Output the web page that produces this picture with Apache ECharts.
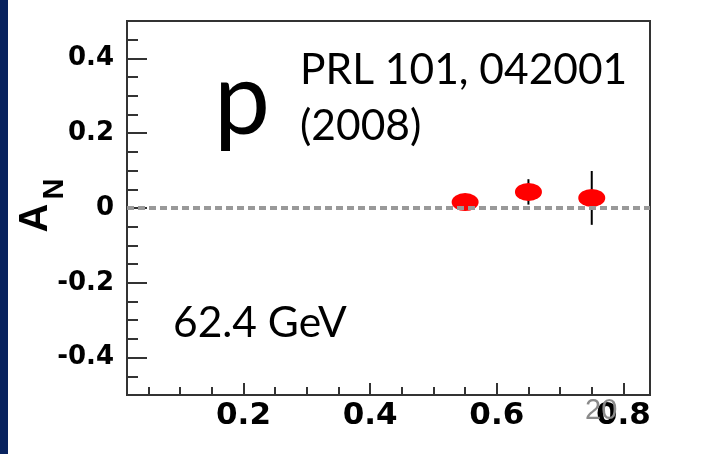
<!DOCTYPE html>
<html>
<head>
<meta charset="utf-8">
<script src="https://cdn.jsdelivr.net/npm/echarts@6/dist/echarts.min.js"></script>
<style>
html,body{margin:0;padding:0;background:#fff;}
#chart{width:703px;height:454px;}
</style>
</head>
<body>
<div id="chart"></div>
<script>
// Data
const xF = [0.55, 0.65, 0.75];
const AN = [0.016, 0.043, 0.027];
const ANerr = [0.015, 0.034, 0.072];

const xRange = [0.016, 0.842];
const yRange = [-0.5, 0.5];
const xMajorTicks = [0.2, 0.4, 0.6, 0.8];
const xMinorTicks = [0.05, 0.1, 0.15, 0.25, 0.3, 0.35, 0.45, 0.5, 0.55, 0.65, 0.7, 0.75];
const yMajorTicks = [-0.4, -0.2, 0, 0.2, 0.4];
const yMinorTicks = [-0.45, -0.35, -0.3, -0.25, -0.15, -0.1, -0.05, 0.05, 0.1, 0.15, 0.25, 0.3, 0.35, 0.45];

const yTitle = 'A';
const yTitleSub = 'N';
const particleText = 'p';
const refLine1 = 'PRL 101, 042001';
const refLine2 = '(2008)';
const energyText = '62.4 GeV';
const pageNum = '20';

const fmt = v => String(Math.round(v * 10) / 10);
const axisColor = '#333';
const tickFont = { fontFamily: 'DejaVu Sans', fontWeight: 'bold', color: '#000' };

const chart = echarts.init(document.getElementById('chart'), null, { renderer: 'canvas' });
const option = {
  animation: false,
  backgroundColor: '#fff',
  grid: { left: 127, right: 53, top: 21, bottom: 59, show: true, borderColor: axisColor, borderWidth: 2, backgroundColor: 'transparent' },
  xAxis: [
    {
      type: 'value', min: xRange[0], max: xRange[1], position: 'bottom',
      axisLine: { show: true, onZero: false, lineStyle: { color: axisColor, width: 2 } },
      splitLine: { show: false },
      axisTick: { show: true, inside: true, length: 12, customValues: xMajorTicks, lineStyle: { color: axisColor, width: 2 } },
      axisLabel: { customValues: xMajorTicks, formatter: fmt, margin: 5, fontSize: 31, ...tickFont }
    },
    {
      type: 'value', min: xRange[0], max: xRange[1], position: 'bottom',
      axisLine: { show: false, onZero: false },
      splitLine: { show: false },
      axisTick: { show: true, inside: true, length: 8, customValues: xMinorTicks, lineStyle: { color: axisColor, width: 2 } },
      axisLabel: { show: false }
    }
  ],
  yAxis: [
    {
      type: 'value', min: yRange[0], max: yRange[1], position: 'left',
      axisLine: { show: true, onZero: false, lineStyle: { color: axisColor, width: 2 } },
      splitLine: { show: false },
      axisTick: { show: true, inside: true, length: 20, customValues: yMajorTicks, lineStyle: { color: axisColor, width: 2 } },
      axisLabel: { customValues: yMajorTicks, formatter: fmt, margin: 13, fontSize: 26, ...tickFont }
    },
    {
      type: 'value', min: yRange[0], max: yRange[1], position: 'left',
      axisLine: { show: false, onZero: false },
      splitLine: { show: false },
      axisTick: { show: true, inside: true, length: 11, customValues: yMinorTicks, lineStyle: { color: axisColor, width: 2 } },
      axisLabel: { show: false }
    }
  ],
  series: [
    {
      type: 'custom',
      xAxisIndex: 0, yAxisIndex: 0,
      z: 2,
      data: xF.map((x, i) => [x, AN[i], ANerr[i]]),
      renderItem: (params, api) => {
        const x = api.value(0), y = api.value(1), e = api.value(2);
        const p1 = api.coord([x, y + e]);
        const p2 = api.coord([x, y - e]);
        return { type: 'line', shape: { x1: p1[0], y1: p1[1], x2: p2[0], y2: p2[1] }, style: { stroke: '#000', lineWidth: 2 } };
      },
      markLine: {
        silent: true, symbol: 'none', label: { show: false },
        lineStyle: { color: '#999', width: 4, type: [7, 4] },
        data: [{ yAxis: 0 }]
      }
    },
    {
      type: 'scatter',
      xAxisIndex: 0, yAxisIndex: 0,
      z: 3,
      symbol: 'circle',
      symbolSize: [27, 18],
      itemStyle: { color: '#ff0000', opacity: 1 },
      data: xF.map((x, i) => [x, AN[i]])
    }
  ],
  graphic: [
    { type: 'rect', left: 0, top: 0, shape: { x: 0, y: 0, width: 8, height: 454 }, style: { fill: '#08235f' } },
    { type: 'text', x: 36, y: 218, rotation: Math.PI / 2, style: { text: yTitle, font: 'bold 40px "Liberation Sans"', fill: '#000', align: 'center', verticalAlign: 'middle' } },
    { type: 'text', x: 55, y: 189, rotation: Math.PI / 2, style: { text: yTitleSub, font: 'bold 29px "Liberation Sans"', fill: '#000', align: 'center', verticalAlign: 'middle' } },
    { type: 'text', x: 214, y: 52, style: { text: particleText, font: '100px Lato', fill: '#000', verticalAlign: 'top' } },
    { type: 'text', x: 300, y: 49, style: { text: refLine1, font: '42.5px Lato', fill: '#000', verticalAlign: 'top' } },
    { type: 'text', x: 300, y: 105, style: { text: refLine2, font: '42.5px Lato', fill: '#000', verticalAlign: 'top' } },
    { type: 'text', x: 173, y: 302, style: { text: energyText, font: '42.5px Lato', fill: '#000', verticalAlign: 'top' } },
    { type: 'text', x: 585, y: 396, z: 100, style: { text: pageNum, font: '29px "Liberation Sans Narrow", "Liberation Sans"', fill: '#8a8a8a', verticalAlign: 'top' } }
  ]
};
chart.setOption(option);
</script>
</body>
</html>
